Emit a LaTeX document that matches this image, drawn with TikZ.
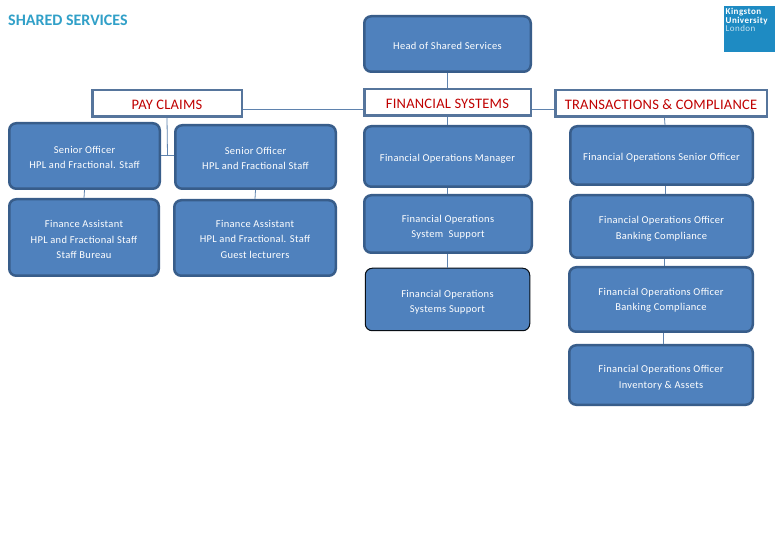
\documentclass[tikz,border=0pt]{standalone}
\usepackage{fontspec}
\setmainfont{Carlito}
\definecolor{boxfill}{HTML}{4F81BD}
\definecolor{boxedge}{HTML}{385D8A}
\definecolor{linkcol}{HTML}{5F83AE}
\definecolor{headred}{HTML}{C00000}
\definecolor{logoblue}{HTML}{1E8BC3}
\definecolor{sstitle}{HTML}{31A0C8}
\newcommand{\tightlines}{\lineskiplimit=-20pt\relax}
\tikzset{
  orgbox/.style={draw=boxedge,fill=boxfill,line width=2.5pt,rounded corners=7pt,text=white,inner sep=0pt,font=\fontsize{10.5}{15.5}\selectfont\addfontfeature{LetterSpace=3}},
  thinbox/.style={orgbox,draw=black!85!boxedge,line width=1pt},
  headbox/.style={draw=boxedge!85!white,fill=white,line width=2.5pt,text=headred,inner sep=0pt,font=\fontsize{14.5}{15}\selectfont\addfontfeature{LetterSpace=1.5}},
  link/.style={draw=linkcol,line width=0.8pt}
}
% name, x0, y0, x1, y1, text offset, style, lines
\newcommand{\bx}[8]{%
  \pgfmathsetmacro{\cxv}{(#2+#4)/2}\pgfmathsetmacro{\cyv}{(#3+#5)/2}%
  \pgfmathsetmacro{\wv}{#4-#2-2.5}\pgfmathsetmacro{\hv}{#5-#3-2.5}%
  \node[#7,minimum width=\wv pt,minimum height=\hv pt] (#1) at (\cxv,\cyv)
    {\raisebox{#6pt}[0pt][0pt]{\begin{tabular}[c]{@{}c@{}}#8\end{tabular}}};%
}
\begin{document}
\begin{tikzpicture}[x=1pt,y=-1pt]
\useasboundingbox (0,0) rectangle (780,540);
\fill[white] (0,0) rectangle (780,540);
\renewcommand{\arraystretch}{1}
\node[anchor=west,inner sep=0pt,text=sstitle,font=\fontsize{16}{18}\selectfont\bfseries] (title) at (8,20) {SHARED SERVICES};
\node[fill=logoblue,minimum width=51pt,minimum height=46pt,inner sep=0pt] (logo) at (749.5,29) {};
\node[anchor=north west,inner sep=0pt,align=left,text=white,font=\fontsize{9}{8.6}\selectfont\bfseries\addfontfeature{LetterSpace=5}\tightlines] (logotext) at (725.5,8) {Kingston\\University\\{\mdseries\color{white!75!logoblue} London}};

\bx{head}{363}{15}{532}{73}{-5.5}{orgbox}{Head of Shared Services}
\bx{pay}{91}{89}{243}{118}{-7}{headbox}{PAY CLAIMS}
\bx{fs}{363}{88}{532}{117}{-7}{headbox}{FINANCIAL SYSTEMS}
\bx{trans}{554}{89}{768}{118}{-7}{headbox}{TRANSACTIONS \& COMPLIANCE}

\bx{sa}{8}{122}{161}{190}{-4.5}{orgbox}{Senior Officer\\HPL and Fractional. Staff}
\bx{sb}{174}{124}{337}{190}{-4.5}{orgbox}{Senior Officer\\HPL and Fractional Staff}
\bx{fa}{8}{198}{160}{277}{-5.5}{orgbox}{Finance Assistant\\HPL and Fractional Staff\\Staff Bureau}
\bx{fb}{173}{199}{337}{277}{-4.5}{orgbox}{Finance Assistant\\HPL and Fractional. Staff\\Guest lecturers}

\bx{fom}{363}{125}{532}{188}{-4.5}{orgbox}{Financial Operations Manager}
\bx{foss}{363}{194}{533}{254}{-5.5}{orgbox}{Financial Operations\\System\ \ Support}
\bx{fsup}{364}{267}{531}{332}{-5}{thinbox}{Financial Operations\\Systems Support}

\bx{foso}{569}{125}{754}{186}{-4.5}{orgbox}{Financial Operations Senior Officer}
\bx{fooa}{569}{194}{754}{259}{-4.5}{orgbox}{Financial Operations Officer\\Banking Compliance}
\bx{foob}{568}{266}{754}{333}{-3}{orgbox}{Financial Operations Officer\\Banking Compliance}
\bx{fooc}{568}{344}{754}{406}{-5}{orgbox}{Financial Operations Officer\\Inventory \& Assets}

\coordinate (hy) at (300,109);
\coordinate (jn) at (167.5,155.3);
\draw[link] (head.south) -- (fs.north);
\draw[link] (pay.east |- hy) -- (fs.west |- hy);
\draw[link] (fs.east |- hy) -- (trans.west |- hy);
\draw[link] (pay.south) -- (jn);
\draw[link] (sa.east |- jn) -- (sb.west |- jn);
\draw[link] (sa.south) -- (fa.north);
\draw[link] (sb.south) -- (fb.north);
\draw[link] (fs.south) -- (fom.north);
\draw[link] (fom.south) -- (foss.north -| fom.south);
\draw[link] (foss.south -| fsup.north) -- (fsup.north);
\draw[link] ([xshift=3.5pt]trans.south) -- ([xshift=3.5pt]foso.north);
\draw[link] ([xshift=3.5pt]foso.south) -- ([xshift=3.5pt]fooa.north);
\draw[link] ([xshift=3pt]fooa.south) -- ([xshift=3pt]foob.north -| fooa.south);
\draw[link] ([xshift=2pt]foob.south) -- ([xshift=2pt]fooc.north);
\end{tikzpicture}
\end{document}
